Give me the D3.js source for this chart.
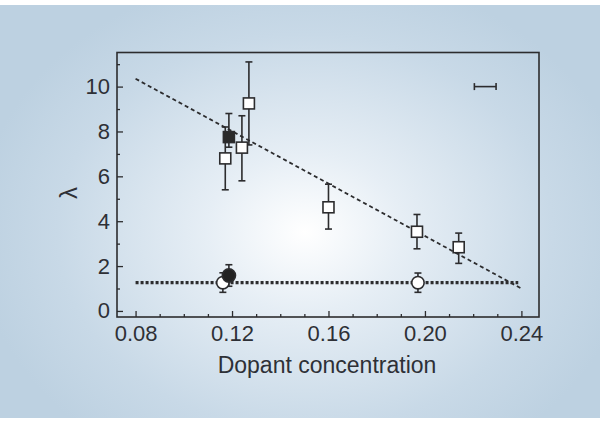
<!DOCTYPE html>
<html><head><meta charset="utf-8">
<script src="https://cdn.jsdelivr.net/npm/d3@7"></script>
<style>html,body{margin:0;padding:0;background:#fff;}svg{display:block;}</style>
</head><body>
<script>
// ---- data ----
const xMajorTicks = [0.08, 0.12, 0.16, 0.20, 0.24];
const xTickLabels = ["0.08", "0.12", "0.16", "0.20", "0.24"];
const yMajorTicks = [0, 2, 4, 6, 8, 10];
const yTickLabels = ["0", "2", "4", "6", "8", "10"];

const openSqX  = [0.1172, 0.1241, 0.127, 0.160, 0.1967, 0.214];
const openSqY  = [6.80, 7.28, 9.25, 4.62, 3.53, 2.84];
const openSqLo = [5.40, 5.80, 7.40, 3.65, 2.77, 2.12];
const openSqHi = [8.20, 8.70, 11.10, 5.65, 4.30, 3.47];

const fillSqX  = [0.1187];
const fillSqY  = [7.75];
const fillSqLo = [7.30];
const fillSqHi = [8.80];

const openCiX  = [0.1162, 0.1971];
const openCiY  = [1.26, 1.26];
const openCiLo = [0.83, 0.83];
const openCiHi = [1.70, 1.69];

const fillCiX  = [0.1187];
const fillCiY  = [1.58];
const fillCiLo = [1.10];
const fillCiHi = [2.06];

const fitLineX = [0.08, 0.24];
const fitLineY = [10.35, 1.0];
const flatLineX = [0.08, 0.2387];
const flatLineY = [1.26, 1.26];

const scaleBarX = [0.2205, 0.2295];
const scaleBarY = [10, 10];

// ---- drawing ----
const W = 600, H = 422;
const ink = "#2c2c2e";
const svg = d3.select("body").append("svg").attr("width", W).attr("height", H);

const defs = svg.append("defs");
const grad = defs.append("radialGradient").attr("id", "bg")
  .attr("gradientUnits", "userSpaceOnUse")
  .attr("cx", 305).attr("cy", 232).attr("r", 330)
  .attr("gradientTransform", "translate(305,232) scale(1,0.8) translate(-305,-232)");
grad.append("stop").attr("offset", 0).attr("stop-color", "#ffffff");
grad.append("stop").attr("offset", 0.3).attr("stop-color", "#e6eef5");
grad.append("stop").attr("offset", 0.75).attr("stop-color", "#c8d9e7");
grad.append("stop").attr("offset", 1).attr("stop-color", "#bdd1e1");

svg.append("rect").attr("x", 0).attr("y", 5).attr("width", W).attr("height", 413)
  .attr("fill", "url(#bg)");

const x = d3.scaleLinear().domain([0.0723, 0.2473]).range([117, 539]);
const y = d3.scaleLinear().domain([-0.27, 11.52]).range([317, 52.5]);

const font = "'Liberation Sans', Arial, Helvetica, sans-serif";

// minor ticks
const xMinor = d3.range(0.08, 0.2451, 0.01).map(v => +v.toFixed(3)).filter(v => !xMajorTicks.some(t => Math.abs(t - v) < 1e-6));
const yMinor = [1, 3, 5, 7, 9, 11];

const gx = svg.append("g").attr("transform", `translate(0,${y.range()[0]})`)
  .call(d3.axisBottom(x).tickValues(xMajorTicks).tickFormat((d, i) => xTickLabels[i])
    .tickSizeInner(-6).tickSizeOuter(0).tickPadding(9));
const gxm = svg.append("g").attr("transform", `translate(0,${y.range()[0]})`)
  .call(d3.axisBottom(x).tickValues(xMinor).tickFormat("").tickSizeInner(-3).tickSizeOuter(0));
const gy = svg.append("g").attr("transform", `translate(${x.range()[0]},0)`)
  .call(d3.axisLeft(y).tickValues(yMajorTicks).tickFormat((d, i) => yTickLabels[i])
    .tickSizeInner(-6).tickSizeOuter(0).tickPadding(7));
const gym = svg.append("g").attr("transform", `translate(${x.range()[0]},0)`)
  .call(d3.axisLeft(y).tickValues(yMinor).tickFormat("").tickSizeInner(-3).tickSizeOuter(0));

[gx, gxm, gy, gym].forEach(g => {
  g.select(".domain").remove();
  g.selectAll("line").attr("stroke", ink).attr("stroke-width", 1.3);
  g.selectAll("text").attr("fill", "#2e3036").attr("font-family", font).attr("font-size", 22);
});
gx.selectAll("text").attr("dy", "0.68em");

// frame
svg.append("rect").attr("x", x.range()[0]).attr("y", y.range()[1])
  .attr("width", x.range()[1] - x.range()[0]).attr("height", y.range()[0] - y.range()[1])
  .attr("fill", "none").attr("stroke", ink).attr("stroke-width", 1.6);

// axis titles
svg.append("text").attr("x", 327).attr("y", 373).attr("text-anchor", "middle")
  .attr("font-family", font).attr("font-size", 23).attr("fill", "#2e3036")
  .text("Dopant concentration");
svg.append("text").attr("transform", "translate(77,193) rotate(-90)")
  .attr("text-anchor", "middle").attr("font-family", font).attr("font-size", 24)
  .attr("fill", "#2e3036").text("λ");

// lines
const line = d3.line().x(d => x(d[0])).y(d => y(d[1]));
svg.append("path").datum(fitLineX.map((v, i) => [v, fitLineY[i]])).attr("d", line)
  .attr("fill", "none").attr("stroke", ink).attr("stroke-width", 1.8).attr("stroke-dasharray", "4,3");
svg.append("path").datum(flatLineX.map((v, i) => [v, flatLineY[i]])).attr("d", line)
  .attr("fill", "none").attr("stroke", ink).attr("stroke-width", 3.2).attr("stroke-dasharray", "3,2");

// error bars
function errorBars(xs, lo, hi) {
  const g = svg.append("g").attr("stroke", ink).attr("stroke-width", 1.6).attr("fill", "none");
  xs.forEach((xv, i) => {
    const cx = x(xv);
    g.append("line").attr("x1", cx).attr("x2", cx).attr("y1", y(lo[i])).attr("y2", y(hi[i]));
    [lo[i], hi[i]].forEach(v => {
      g.append("line").attr("x1", cx - 3.5).attr("x2", cx + 3.5).attr("y1", y(v)).attr("y2", y(v));
    });
  });
}
errorBars(openSqX, openSqLo, openSqHi);
errorBars(fillSqX, fillSqLo, fillSqHi);
errorBars(openCiX, openCiLo, openCiHi);
errorBars(fillCiX, fillCiLo, fillCiHi);

// horizontal scale bar
{
  const g = svg.append("g").attr("stroke", ink).attr("stroke-width", 1.6);
  const yy = y(scaleBarY[0]);
  g.append("line").attr("x1", x(scaleBarX[0])).attr("x2", x(scaleBarX[1])).attr("y1", yy).attr("y2", yy);
  scaleBarX.forEach(v => g.append("line").attr("x1", x(v)).attr("x2", x(v)).attr("y1", yy - 3.5).attr("y2", yy + 3.5));
}

// markers
const S = 11;
function squares(xs, ys, fill) {
  svg.append("g").selectAll("rect").data(xs.map((v, i) => [v, ys[i]])).join("rect")
    .attr("x", d => x(d[0]) - S / 2).attr("y", d => y(d[1]) - S / 2)
    .attr("width", S).attr("height", S)
    .attr("fill", fill).attr("stroke", ink).attr("stroke-width", 1.6);
}
function circles(xs, ys, fill, r) {
  svg.append("g").selectAll("circle").data(xs.map((v, i) => [v, ys[i]])).join("circle")
    .attr("cx", d => x(d[0])).attr("cy", d => y(d[1])).attr("r", r)
    .attr("fill", fill).attr("stroke", ink).attr("stroke-width", 1.6);
}
squares(openSqX, openSqY, "#ffffff");
squares(fillSqX, fillSqY, "#2a2a2a");
circles(openCiX, openCiY, "#ffffff", 6.2);
circles(fillCiX, fillCiY, "#222222", 6.6);
</script>
</body></html>
